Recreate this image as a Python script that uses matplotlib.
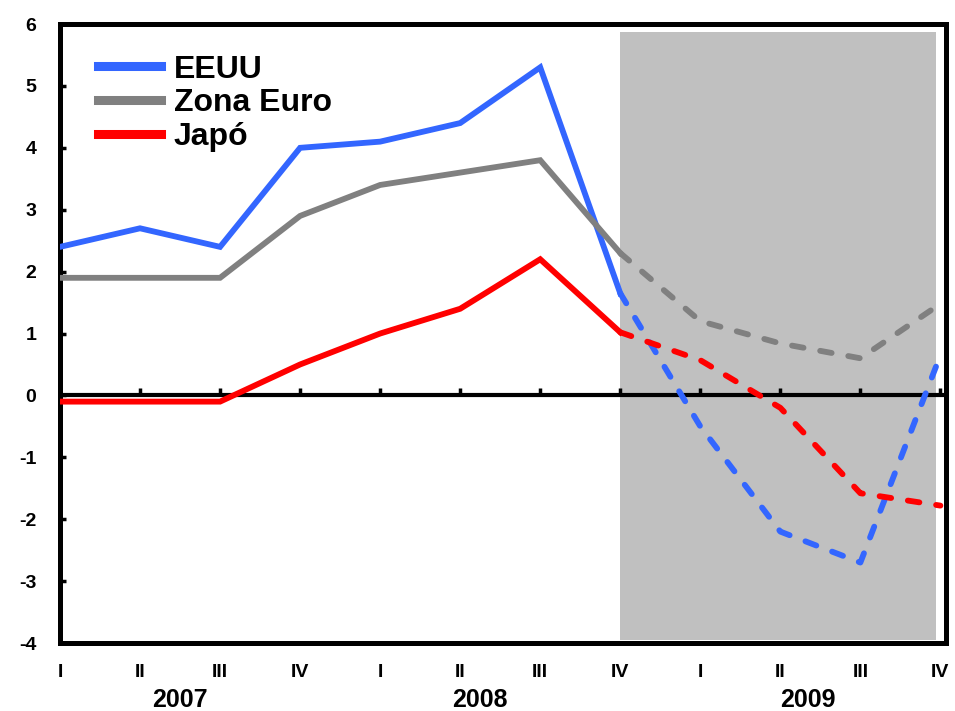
import numpy as np
import matplotlib.pyplot as plt
from matplotlib.transforms import blended_transform_factory

plt.rcParams["font.family"] = ["Liberation Sans", "DejaVu Sans"]
plt.rcParams["font.weight"] = "bold"
plt.rcParams["axes.unicode_minus"] = False

# data
quarters = ["I", "II", "III", "IV", "I", "II", "III", "IV", "I", "II", "III", "IV"]
years = ["2007", "2008", "2009"]
year_pos = [1.5, 5.25, 9.35]

eeuu = [2.4, 2.7, 2.4, 4.0, 4.1, 4.4, 5.3, 1.65, -0.5, -2.2, -2.7, 0.65]
euro = [1.9, 1.9, 1.9, 2.9, 3.4, 3.6, 3.8, 2.3, 1.2, 0.84, 0.6, 1.48]
japo = [-0.1, -0.1, -0.1, 0.5, 1.0, 1.4, 2.2, 1.02, 0.57, -0.2, -1.58, -1.78]

series = [("EEUU", eeuu, "#3366FF"), ("Zona Euro", euro, "#808080"), ("Japó", japo, "#FF0000")]
split = 7  # last observed quarter (IV 2008); forecasts afterwards
shade_x = (7.0, 10.95)
shade_y = (-3.95, 5.87)

fig = plt.figure(figsize=(9.55, 7.11), dpi=100)
ax = fig.add_axes([0.0628, 0.0956, 0.9278, 0.8706])

x = np.arange(len(quarters))

ax.fill_between(shade_x, shade_y[0], shade_y[1], color="#C0C0C0", lw=0, zorder=0)
ax.axhline(0, color="black", lw=3, zorder=1)
ax.plot(x, np.zeros(len(x)), ls="none", marker=2, ms=5, mew=2.5, color="black", zorder=1)

handles = []
for name, vals, col in series:
    h, = ax.plot(x[:split + 1], vals[:split + 1], color=col, lw=4.2,
                 solid_joinstyle="miter", zorder=3, label=name)
    ax.plot(x[split:], vals[split:], color=col, lw=4.2, ls=(0, (2.0, 2.9)),
            dash_capstyle="round", zorder=3)
    handles.append(h)

ax.set_xlim(0, 11.07)
ax.set_ylim(-4, 6)
ax.set_yticks(range(-4, 7))
ax.set_xticks(x)
ax.set_xticklabels(quarters)
ax.tick_params(axis="x", length=0, pad=15, labelsize=14)
ax.tick_params(axis="y", direction="in", length=4, width=2.5, pad=17, labelsize=14)

for sp in ax.spines.values():
    sp.set_linewidth(3.6)
    sp.set_joinstyle("round")

trans = blended_transform_factory(ax.transData, ax.transAxes)
for yr, pos in zip(years, year_pos):
    ax.text(pos, -0.092, yr, transform=trans, ha="center", va="center",
            fontsize=18, fontweight="bold")

leg = ax.legend(handles=handles, loc="upper left", bbox_to_anchor=(0.011, 0.997),
                frameon=False, fontsize=23, handlelength=1.95, handletextpad=0.4,
                labelspacing=0.12)
for ln in leg.get_lines():
    ln.set_linewidth(6.5)

fig.savefig("out.png", dpi=100)
